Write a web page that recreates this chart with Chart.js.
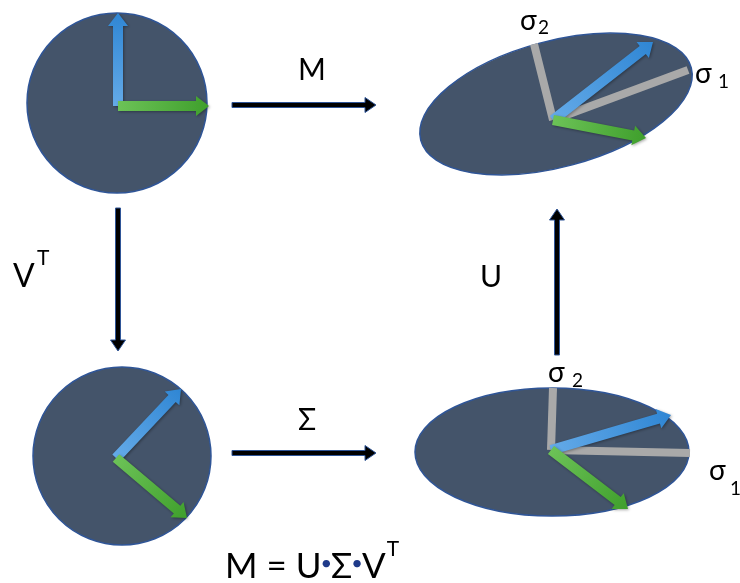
<!DOCTYPE html>
<html>
<head>
<meta charset="utf-8">
<script src="https://cdn.jsdelivr.net/npm/chart.js@4"></script>
<style>
  html, body { margin: 0; padding: 0; background: #fff; }
  #wrap { width: 740px; height: 583px; position: relative; }
</style>
</head>
<body>
<div id="wrap"><canvas id="svd"></canvas></div>
<script>
// ---- data (pixel-like units, y grows downward) ----
const ellipseX    = [117, 122, 556, 552];
const ellipseY    = [103, 456, 104, 452];
const ellipseRx   = [90, 89, 140, 137];
const ellipseRy   = [90, 89, 63, 64];
const ellipseTilt = [0, 0, -15, 0];   // degrees

const vecOriginX = [118, 116, 553, 551];
const vecOriginY = [106, 458, 120, 450];
const blueTipX   = [118, 181, 653, 671];
const blueTipY   = [13, 389, 42, 415];
const greenTipX  = [209, 187, 646, 628];
const greenTipY  = [106, 518, 138, 509];

// singular value axes (on the two ellipses)
const sigmaOwner = [2, 3];
const sigma1EndX = [688, 690];
const sigma1EndY = [70, 453];
const sigma2EndX = [534, 553];
const sigma2EndY = [44, 388];

// mapping arrows
const mapFromX = [232, 118, 557, 232];
const mapFromY = [105, 208, 355, 453];
const mapToX   = [376, 118, 557, 376];
const mapToY   = [105, 351, 209, 453];

// labels
const labelText = ['M', 'Σ', 'U', 'V', 'σ', 'σ', 'σ', 'σ'];
const labelX    = [298, 298, 480, 13, 520, 695, 548, 709];
const labelY    = [80, 430, 287, 287, 30, 83, 382, 480];
const labelSub  = ['', '', '', 'T', '2', '1', '2', '1'];
const labelSubX = [0, 0, 0, 37, 538, 718, 572, 730];
const labelSubY = [0, 0, 0, 265, 34, 88, 387, 495];

const equationParts = ['M = U', '•', 'Σ', '•', 'V'];
const equationSup   = 'T';
const equationX = 225, equationY = 578;

const FONT = "Lato, 'Noto Sans', sans-serif";

// ---- datasets ----
const datasets = [];
sigmaOwner.forEach((k, i) => {
  [[sigma1EndX[i], sigma1EndY[i]], [sigma2EndX[i], sigma2EndY[i]]].forEach(end => {
    datasets.push({
      type: 'line',
      data: [{ x: vecOriginX[k], y: vecOriginY[k] }, { x: end[0], y: end[1] }],
      borderColor: '#a9a9a9', borderWidth: 8, borderCapStyle: 'butt',
      pointRadius: 0, showLine: true, fill: false,
    });
  });
});
vecOriginX.forEach((ox, k) => {
  datasets.push({
    data: [{ x: ox, y: vecOriginY[k] }, { x: blueTipX[k], y: blueTipY[k] }],
    pointRadius: 0, showLine: false, arrow: 'blue',
  });
  datasets.push({
    data: [{ x: ox, y: vecOriginY[k] }, { x: greenTipX[k], y: greenTipY[k] }],
    pointRadius: 0, showLine: false, arrow: 'green',
  });
});
mapFromX.forEach((fx, k) => {
  datasets.push({
    data: [{ x: fx, y: mapFromY[k] }, { x: mapToX[k], y: mapToY[k] }],
    pointRadius: 0, showLine: false, arrow: 'black',
  });
});

function arrowPath(ctx, a, b, w, hw, hl) {
  const dx = b.x - a.x, dy = b.y - a.y;
  const len = Math.hypot(dx, dy);
  const ux = dx / len, uy = dy / len, nx = -uy, ny = ux;
  const bx = b.x - ux * hl, by = b.y - uy * hl;
  ctx.beginPath();
  ctx.moveTo(a.x + nx * w / 2, a.y + ny * w / 2);
  ctx.lineTo(bx + nx * w / 2, by + ny * w / 2);
  ctx.lineTo(bx + nx * hw / 2, by + ny * hw / 2);
  ctx.lineTo(b.x, b.y);
  ctx.lineTo(bx - nx * hw / 2, by - ny * hw / 2);
  ctx.lineTo(bx - nx * w / 2, by - ny * w / 2);
  ctx.lineTo(a.x - nx * w / 2, a.y - ny * w / 2);
  ctx.closePath();
}

const colours = {
  blue:  ['#64aae8', '#2f86d4'],
  green: ['#6cc257', '#3f9f2c'],
};

const diagramPlugin = {
  id: 'diagram',
  beforeDatasetsDraw(chart) {
    const { ctx, scales: { x, y } } = chart;
    ctx.save();
    ellipseX.forEach((cx, i) => {
      const px = x.getPixelForValue(cx), py = y.getPixelForValue(ellipseY[i]);
      const rx = Math.abs(x.getPixelForValue(cx + ellipseRx[i]) - px);
      const ry = Math.abs(y.getPixelForValue(ellipseY[i] + ellipseRy[i]) - py);
      ctx.beginPath();
      ctx.ellipse(px, py, rx, ry, ellipseTilt[i] * Math.PI / 180, 0, Math.PI * 2);
      ctx.fillStyle = '#44546a';
      ctx.fill();
      ctx.lineWidth = 1.5;
      ctx.strokeStyle = '#2f5597';
      ctx.stroke();
    });
    ctx.restore();
  },
  afterDatasetsDraw(chart) {
    const ctx = chart.ctx;
    chart.data.datasets.forEach((ds, i) => {
      if (!ds.arrow) return;
      const [a, b] = chart.getDatasetMeta(i).data;
      ctx.save();
      if (ds.arrow === 'black') {
        arrowPath(ctx, a, b, 5, 15, 11);
        ctx.fillStyle = '#000';
        ctx.fill();
        ctx.lineWidth = 1;
        ctx.strokeStyle = '#2f5597';
        ctx.stroke();
      } else {
        const g = ctx.createLinearGradient(a.x, a.y, b.x, b.y);
        g.addColorStop(0, colours[ds.arrow][0]);
        g.addColorStop(1, colours[ds.arrow][1]);
        ctx.shadowColor = 'rgba(0,0,0,0.35)';
        ctx.shadowBlur = 3;
        ctx.shadowOffsetX = 1;
        ctx.shadowOffsetY = 1;
        arrowPath(ctx, a, b, 10, 20, 13);
        ctx.fillStyle = g;
        ctx.fill();
      }
      ctx.restore();
    });
  },
  afterDraw(chart) {
    const { ctx, scales: { x, y } } = chart;
    ctx.save();
    ctx.fillStyle = '#000';
    ctx.textBaseline = 'alphabetic';
    labelText.forEach((t, i) => {
      const big = t === 'σ' ? 28 : (t === 'V' ? 32 : 30);
      ctx.font = big + 'px ' + FONT;
      ctx.fillText(t, x.getPixelForValue(labelX[i]), y.getPixelForValue(labelY[i]));
      if (labelSub[i]) {
        ctx.font = (t === 'V' ? 21 : 19) + 'px ' + FONT;
        ctx.fillText(labelSub[i], x.getPixelForValue(labelSubX[i]), y.getPixelForValue(labelSubY[i]));
      }
    });
    // equation line
    let px = x.getPixelForValue(equationX);
    const py = y.getPixelForValue(equationY);
    equationParts.forEach(p => {
      if (p === '•') {
        ctx.font = '20px ' + FONT;
        ctx.fillStyle = '#1f3a8a';
        const w = ctx.measureText(p).width;
        ctx.fillText(p, px - 1, py - 8);
        px += w - 2;
      } else {
        ctx.font = '35px ' + FONT;
        ctx.fillStyle = '#000';
        ctx.fillText(p, px, py);
        px += ctx.measureText(p).width;
      }
    });
    ctx.font = '21px ' + FONT;
    ctx.fillStyle = '#000';
    ctx.fillText(equationSup, px + 1, py - 22);
    ctx.restore();
  }
};

new Chart(document.getElementById('svd'), {
  type: 'scatter',
  data: { datasets },
  options: {
    responsive: true,
    maintainAspectRatio: false,
    animation: false,
    events: [],
    layout: { padding: 0 },
    plugins: { legend: { display: false }, tooltip: { enabled: false } },
    scales: {
      x: { type: 'linear', min: 0, max: 740, display: false },
      y: { type: 'linear', min: 0, max: 583, reverse: true, display: false },
    },
  },
  plugins: [diagramPlugin],
});
</script>
</body>
</html>
